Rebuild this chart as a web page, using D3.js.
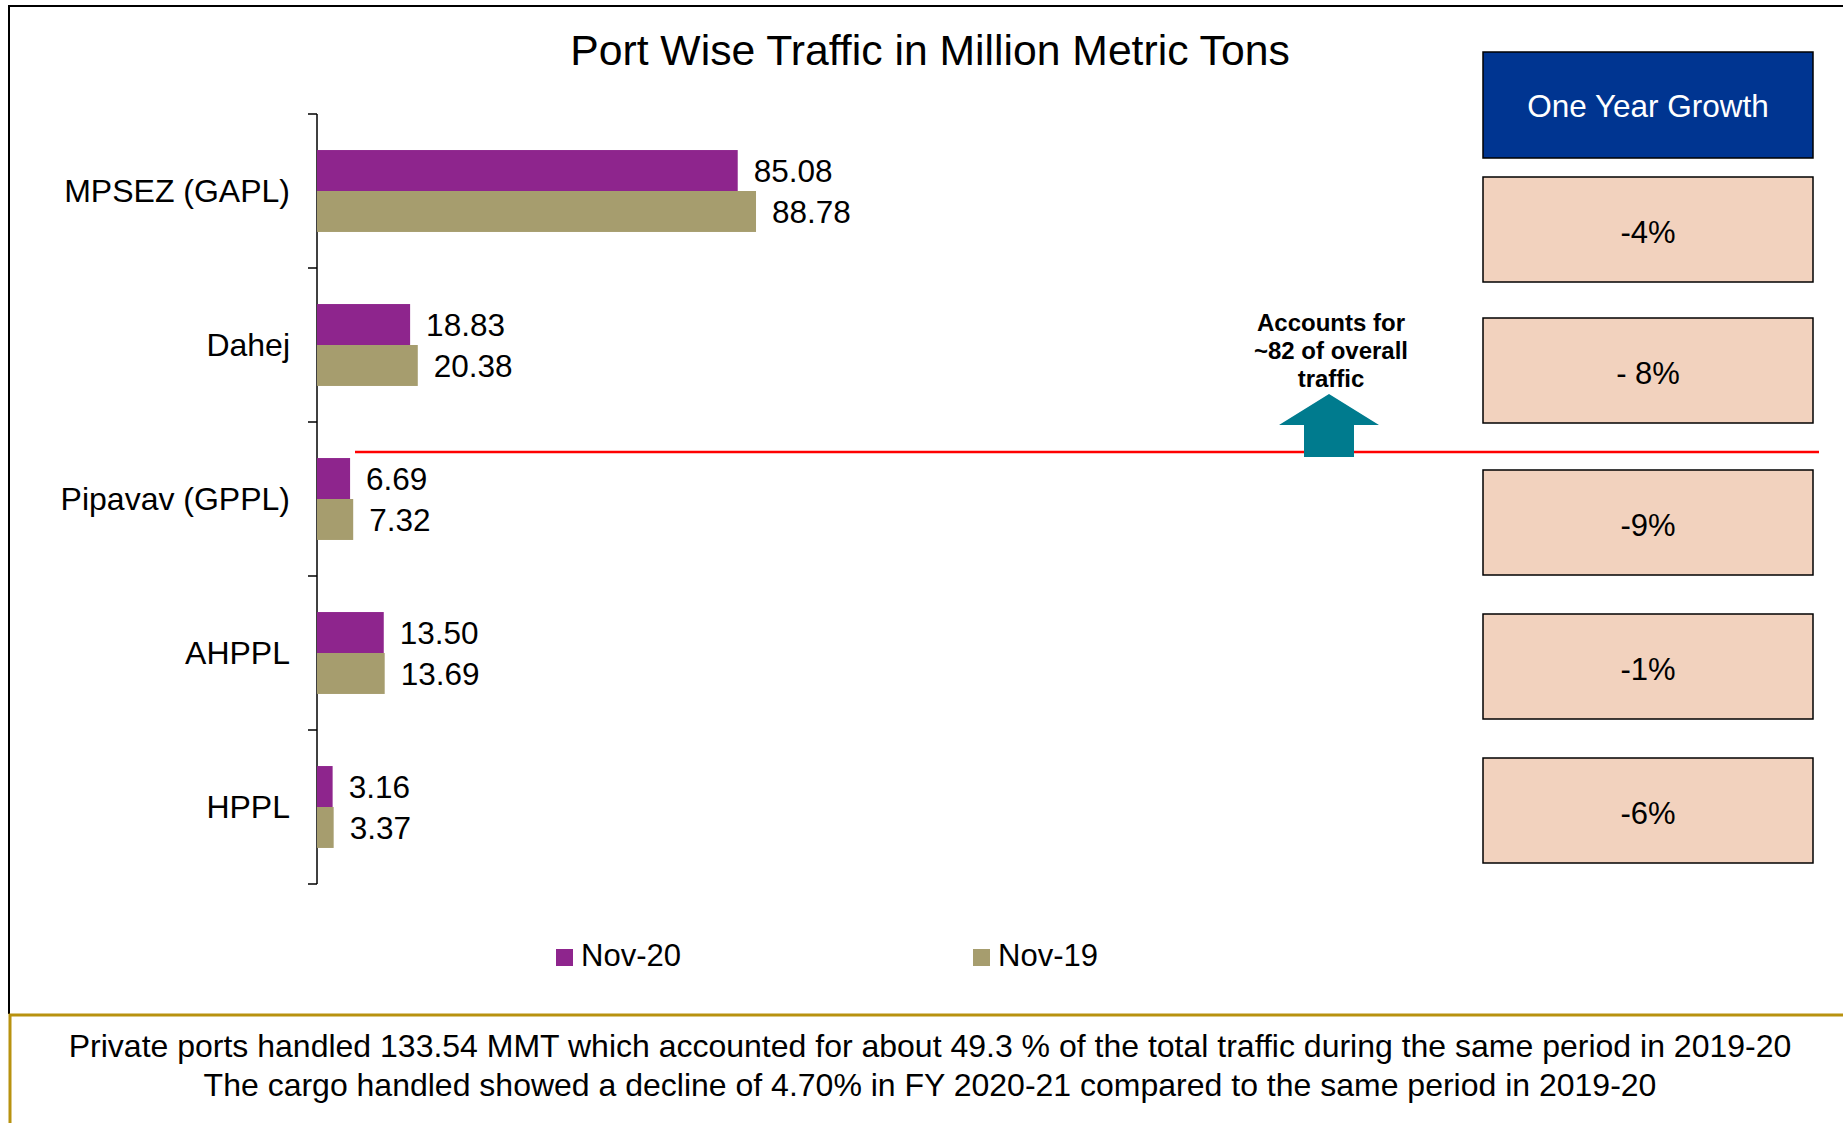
<!DOCTYPE html>
<html>
<head>
<meta charset="utf-8">
<script src="https://cdn.jsdelivr.net/npm/d3@7"></script>
<style>
  body { margin: 0; background: #fff; }
  text { font-family: "Liberation Sans", Arial, sans-serif; }
</style>
</head>
<body>
<div id="chart"></div>
<script>
// data
var ports = ["MPSEZ (GAPL)", "Dahej", "Pipavav (GPPL)", "AHPPL", "HPPL"];
var seriesNames = ["Nov-20", "Nov-19"];
var nov20 = [85.08, 18.83, 6.69, 13.50, 3.16];
var nov19 = [88.78, 20.38, 7.32, 13.69, 3.37];
var growth = ["-4%", "- 8%", "-9%", "-1%", "-6%"];
var footerLines = [
  "Private ports handled 133.54 MMT which accounted for about 49.3 % of the total traffic during the same period in 2019-20",
  "The cargo handled showed a decline of 4.70% in FY 2020-21 compared to the same period in 2019-20"
];

var colors = {"Nov-20": "#8e258d", "Nov-19": "#a69d6e"};

// svg size and chart margins
var svgWidth = 1843;
var svgHeight = 1123;

var margin = {top: 114, left: 317};
var width = 494.5;
var height = 770;

var svg = d3.select("#chart")
  .append("svg")
  .attr("width", svgWidth)
  .attr("height", svgHeight);

// slide frame: black top/left, gold divider above footer
svg.append("path")
  .attr("d", "M9,1014 V6 H1843")
  .attr("fill", "none")
  .attr("stroke", "#000")
  .attr("stroke-width", 2);

svg.append("path")
  .attr("d", "M10,1123 V1015 H1843")
  .attr("fill", "none")
  .attr("stroke", "#b8920f")
  .attr("stroke-width", 3);

// title
svg.append("text")
  .attr("x", 930)
  .attr("y", 65)
  .attr("text-anchor", "middle")
  .attr("font-size", "42.7px")
  .text("Port Wise Traffic in Million Metric Tons");

var chartGroup = svg.append("g")
  .attr("transform", `translate(${margin.left}, ${margin.top})`);

// rows for the bars
var rows = ports.map(function(p, i) {
  return {port: p, values: [
    {key: seriesNames[0], value: nov20[i]},
    {key: seriesNames[1], value: nov19[i]}
  ]};
});

// scales
var xLinearScale = d3.scaleLinear()
  .domain([0, 100])
  .range([0, width]);

var yBand = d3.scaleBand()
  .domain(ports)
  .range([0, height]);

var ySub = d3.scaleBand()
  .domain(seriesNames)
  .range([0, yBand.bandwidth()])
  .paddingOuter(0.88);

// category axis: ticks sit between categories
var leftAxis = d3.axisLeft(yBand)
  .tickSize(0)
  .tickPadding(27);

var axisG = chartGroup.append("g")
  .call(leftAxis);

axisG.select(".domain").remove();
axisG.selectAll("text")
  .attr("font-size", "32px")
  .attr("font-family", "'Liberation Sans', Arial, sans-serif")
  .attr("fill", "#000")
  .attr("dy", "0.35em");

chartGroup.append("line")
  .attr("x1", 0).attr("x2", 0)
  .attr("y1", 0).attr("y2", height)
  .attr("stroke", "#000")
  .attr("stroke-width", 1.5);

chartGroup.selectAll(".sepTick")
  .data(d3.range(ports.length + 1))
  .enter()
  .append("line")
  .attr("class", "sepTick")
  .attr("x1", -9).attr("x2", 0)
  .attr("y1", d => d * yBand.step())
  .attr("y2", d => d * yBand.step())
  .attr("stroke", "#000")
  .attr("stroke-width", 1.5);

// bars and value labels
var groups = chartGroup.selectAll(".port")
  .data(rows)
  .enter()
  .append("g")
  .attr("class", "port")
  .attr("transform", d => `translate(0, ${yBand(d.port)})`);

groups.selectAll("rect")
  .data(d => d.values)
  .enter()
  .append("rect")
  .attr("x", 0)
  .attr("y", d => ySub(d.key))
  .attr("width", d => xLinearScale(d.value))
  .attr("height", ySub.bandwidth())
  .attr("fill", d => colors[d.key]);

groups.selectAll(".valText")
  .data(d => d.values)
  .enter()
  .append("text")
  .attr("class", "valText")
  .attr("x", d => xLinearScale(d.value) + 16)
  .attr("y", d => ySub(d.key) + ySub.bandwidth() / 2)
  .attr("dy", "0.38em")
  .attr("font-size", "31.5px")
  .text(d => d3.format(".2f")(d.value));

// red divider + arrow annotation
svg.append("line")
  .attr("x1", 355).attr("x2", 1819)
  .attr("y1", 452).attr("y2", 452)
  .attr("stroke", "#f00")
  .attr("stroke-width", 2.5);

svg.append("path")
  .attr("d", "M1329,394 L1379,425 L1354,425 L1354,457 L1304,457 L1304,425 L1279,425 Z")
  .attr("fill", "#007b8e");

var note = svg.append("text")
  .attr("text-anchor", "middle")
  .attr("font-size", "24px")
  .attr("font-weight", "bold");

["Accounts for", "~82 of overall", "traffic"].forEach(function(t, i) {
  note.append("tspan")
    .attr("x", 1331)
    .attr("y", 331 + i * 28)
    .text(t);
});

// one year growth boxes
var boxX = 1483, boxW = 330, boxH = 105;
var boxTops = [177, 318, 470, 614, 758];

svg.append("rect")
  .attr("x", boxX).attr("y", 52)
  .attr("width", boxW).attr("height", 106)
  .attr("fill", "#003591")
  .attr("stroke", "#000")
  .attr("stroke-width", 1.5);

svg.append("text")
  .attr("x", boxX + boxW / 2)
  .attr("y", 117)
  .attr("text-anchor", "middle")
  .attr("font-size", "31.5px")
  .attr("fill", "#fff")
  .text("One Year Growth");

var boxes = svg.selectAll(".growthBox")
  .data(growth)
  .enter()
  .append("g")
  .attr("class", "growthBox")
  .attr("transform", (d, i) => `translate(${boxX}, ${boxTops[i]})`);

boxes.append("rect")
  .attr("width", boxW)
  .attr("height", boxH)
  .attr("fill", "#f2d2be")
  .attr("stroke", "#000")
  .attr("stroke-width", 1.5);

boxes.append("text")
  .attr("x", boxW / 2)
  .attr("y", boxH / 2 + 13)
  .attr("text-anchor", "middle")
  .attr("font-size", "31px")
  .text(d => d);

// legend
var legendX = [556, 973];
var legend = svg.selectAll(".legend")
  .data(seriesNames)
  .enter()
  .append("g")
  .attr("class", "legend")
  .attr("transform", (d, i) => `translate(${legendX[i]}, 949)`);

legend.append("rect")
  .attr("width", 17)
  .attr("height", 17)
  .attr("fill", d => colors[d]);

legend.append("text")
  .attr("x", 25)
  .attr("y", 17)
  .attr("font-size", "31px")
  .text(d => d);

// footer notes
svg.selectAll(".footer")
  .data(footerLines)
  .enter()
  .append("text")
  .attr("class", "footer")
  .attr("x", 930)
  .attr("y", (d, i) => 1057 + i * 39)
  .attr("text-anchor", "middle")
  .attr("font-size", "32px")
  .text(d => d);
</script>
</body>
</html>
